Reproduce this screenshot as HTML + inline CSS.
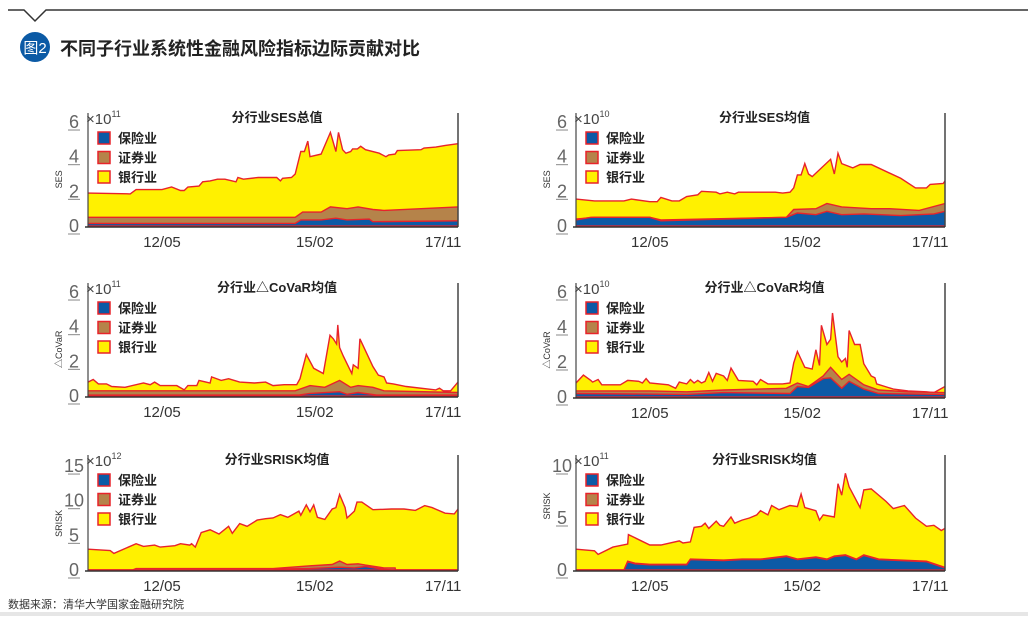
<!DOCTYPE html>
<html><head><meta charset="utf-8"><style>
html,body{margin:0;padding:0;background:#fff;}
body{width:1028px;height:616px;overflow:hidden;font-family:"Liberation Sans","Noto Sans CJK SC",sans-serif;}
</style></head><body>
<svg id="s" width="1028" height="616" xmlns="http://www.w3.org/2000/svg" font-family="Liberation Sans, Noto Sans CJK SC, sans-serif">
<polyline points="8,10 24,10 35,21 46,10 1028,10" fill="none" stroke="#333" stroke-width="1.5"/>
<circle cx="35" cy="47" r="15" fill="#0b5aa5"/>
<text x="35" y="53" fill="#fff" font-size="15" text-anchor="middle">图2</text>
<text x="60" y="55" font-size="18" font-weight="bold" fill="#222">不同子行业系统性金融风险指标边际贡献对比</text>
<text x="8" y="608" font-size="11" fill="#333">数据来源：清华大学国家金融研究院</text>
<rect x="0" y="612" width="1028" height="4" fill="#e6e6e6"/>
</svg>
<script>
var s=document.getElementById('s');var NS='http://www.w3.org/2000/svg';
function el(t,a,txt,par){var e=document.createElementNS(NS,t);for(var k in a)e.setAttribute(k,a[k]);if(txt!==undefined)e.textContent=txt;(par||s).appendChild(e);return e;}
function P(x0,x1,y0,pu,top,title,exp,ylab,ticks,lbls,Y,B,L){
 var X=function(t){return x0+t*(x1-x0)},V=function(v){return y0-v*pu};
 function area(d,fill){var p=d.map(function(q){return X(q[0]).toFixed(1)+','+V(q[1]).toFixed(1)});
  el('polygon',{points:X(0)+','+y0+' '+p.join(' ')+' '+X(1)+','+y0,fill:fill});
  el('polyline',{points:p.join(' '),fill:'none',stroke:'#e8232a','stroke-width':1.4});}
 area(Y,'#fff100');area(B,'#b5834a');area(L,'#0c5aa6');
 el('line',{x1:x0,y1:y0,x2:x1,y2:y0,stroke:'#e8232a','stroke-width':1.2});
 el('line',{x1:x0,y1:top,x2:x0,y2:y0+1,stroke:'#444','stroke-width':1.2});
 el('line',{x1:x1,y1:top,x2:x1,y2:y0+1,stroke:'#444','stroke-width':1.5});
 el('line',{x1:x0-3,y1:y0+1,x2:x1,y2:y0+1,stroke:'#333','stroke-width':1.5});
 ticks.forEach(function(v){var y=V(v);el('text',{x:x0-14,y:y+6,'font-size':18,fill:'#666','text-anchor':'middle'},String(v));
  el('line',{x1:x0-20,y1:y+8,x2:x0-8,y2:y+8,stroke:'#888','stroke-width':1});});
 lbls.forEach(function(l){el('text',{x:X(l[0]),y:y0+21,'font-size':15,fill:'#333','text-anchor':'middle'},l[1]);});
 el('text',{x:(x0+x1)/2+4,y:top+9,'font-size':13,'font-weight':'bold',fill:'#222','text-anchor':'middle'},title);
 var t=el('text',{x:x0-2,y:top+11,'font-size':15,fill:'#444'},'×10');
 el('tspan',{dy:-7,'font-size':9},exp,t);
 el('text',{x:0,y:0,'font-size':9,fill:'#333','text-anchor':'middle',transform:'translate('+(x0-26)+','+(V(ticks[1])-12)+') rotate(-90)'},ylab);
 [['#0c5aa6','保险业'],['#b5834a','证券业'],['#fff100','银行业']].forEach(function(c,i){var y=top+19+i*19.5;
  el('rect',{x:x0+10,y:y,width:12,height:12,fill:c[0],stroke:'#e8232a','stroke-width':1.5});
  el('text',{x:x0+30,y:y+11,'font-size':13,'font-weight':'bold',fill:'#222'},c[1]);});
}
var LX=[[.2,'12/05'],[.613,'15/02'],[.96,'17/11']];
P(88,458,226,17.33,113,'分行业SES总值','11','SES',[0,2,4,6],LX,
[[0,1.9],[.114,1.85],[.13,2.1],[.2,2.1],[.226,2.25],[.25,2.05],[.26,2.05],[.27,2.25],[.3,2.3],[.31,2.55],[.33,2.6],[.35,2.7],[.37,2.7],[.4,2.55],[.405,2.8],[.42,2.7],[.46,2.8],[.51,2.8],[.52,2.6],[.526,2.75],[.55,2.8],[.56,3.0],[.575,4.3],[.585,4.3],[.594,4.9],[.6,4.0],[.63,4.15],[.655,5.4],[.67,4.3],[.677,5.4],[.688,4.4],[.697,4.2],[.71,4.3],[.715,4.45],[.728,4.45],[.737,4.6],[.75,4.4],[.787,4.2],[.805,4.0],[.813,4.1],[.83,4.15],[.836,4.35],[.9,4.4],[.908,4.5],[.94,4.55],[.966,4.65],[1,4.75]],
[[0,.5],[.56,.5],[.58,.8],[.63,.8],[.655,1.1],[.7,1.0],[.73,1.1],[.77,.95],[.8,.9],[1,1.1]],
[[0,.15],[.56,.15],[.575,.35],[.63,.35],[.67,.45],[.7,.35],[.76,.4],[.77,.25],[1,.3]]);
P(576,945,226,17.33,113,'分行业SES均值','10','SES',[0,2,4,6],LX,
[[0,1.55],[.05,1.45],[.13,1.45],[.15,1.55],[.2,1.4],[.22,1.4],[.23,1.65],[.26,1.45],[.28,1.45],[.3,1.7],[.33,1.8],[.34,2.0],[.38,1.95],[.39,1.85],[.41,1.95],[.43,1.85],[.44,1.95],[.54,1.95],[.56,1.9],[.58,1.95],[.59,2.2],[.6,2.95],[.61,2.95],[.62,3.6],[.63,3.0],[.64,2.85],[.69,3.85],[.7,3.0],[.71,4.2],[.72,3.6],[.75,3.35],[.77,3.55],[.8,3.55],[.88,2.75],[.92,2.2],[.95,2.2],[.96,2.4],[.995,2.45],[1,2.6]],
[[0,.4],[.05,.5],[.2,.5],[.23,.35],[.57,.5],[.59,.95],[.65,1.0],[.68,1.3],[.72,1.1],[.8,1.0],[.85,1.0],[.93,.9],[1,1.3]],
[[0,.35],[.04,.5],[.2,.5],[.23,.3],[.57,.5],[.6,.75],[.65,.65],[.68,.85],[.72,.65],[.78,.7],[.88,.6],[.97,.7],[1,.85]]);
P(88,458,396,17.33,283,'分行业△CoVaR均值','11','△CoVaR',[0,2,4,6],LX,
[[0,.8],[.014,.95],[.028,.7],[.05,.7],[.064,.55],[.1,.5],[.15,.75],[.168,.65],[.18,.8],[.195,.6],[.24,.6],[.26,.35],[.27,.6],[.294,.6],[.3,.9],[.33,.75],[.334,1.1],[.36,.9],[.38,1.0],[.41,.8],[.45,.75],[.48,.8],[.5,.6],[.53,.65],[.564,.65],[.573,1.0],[.59,2.4],[.61,1.6],[.636,1.3],[.654,3.5],[.663,3.3],[.672,3.0],[.675,4.1],[.68,2.8],[.69,2.3],[.713,1.3],[.717,1.8],[.73,1.6],[.735,3.3],[.77,1.7],[.785,1.2],[.8,1.1],[.807,.75],[.825,.7],[.86,.55],[.94,.35],[.95,.45],[.96,.3],[.98,.3],[1,.8]],
[[0,.3],[.56,.3],[.6,.6],[.64,.5],[.68,.9],[.71,.5],[.73,.6],[.77,.5],[.8,.3],[1,.2]],
[[0,.05],[.57,.05],[.6,.15],[.68,.25],[.7,.1],[.73,.2],[.78,.05],[1,.05]]);
P(576,945,397,17.5,283,'分行业△CoVaR均值','10','△CoVaR',[0,2,4,6],LX,
[[0,.8],[.02,1.25],[.04,.95],[.045,.85],[.06,1.0],[.07,.7],[.12,.7],[.14,.95],[.17,.9],[.18,.8],[.19,1.05],[.2,.8],[.25,.7],[.27,.5],[.28,.85],[.3,.75],[.31,1.0],[.32,.8],[.33,.95],[.34,.8],[.35,.9],[.36,1.4],[.37,.9],[.38,1.35],[.4,1.2],[.41,.95],[.42,1.65],[.44,.95],[.48,.9],[.49,.7],[.5,1.0],[.52,.75],[.56,.75],[.58,.8],[.59,1.95],[.6,2.6],[.62,1.7],[.64,1.6],[.65,2.7],[.66,1.8],[.665,4.1],[.68,3.0],[.69,3.3],[.695,4.8],[.71,2.3],[.72,2.0],[.73,2.2],[.735,1.7],[.74,3.8],[.755,3.0],[.77,3.0],[.78,1.9],[.8,1.2],[.81,1.1],[.815,.75],[.86,.45],[.9,.35],[.95,.3],[.97,.25],[1,.6]],
[[0,.35],[.2,.35],[.3,.3],[.4,.4],[.57,.5],[.6,.8],[.63,.6],[.67,1.2],[.69,1.7],[.72,1.0],[.74,1.3],[.78,.7],[.82,.4],[.9,.3],[1,.25]],
[[0,.2],[.3,.15],[.4,.25],[.58,.2],[.6,.6],[.63,.55],[.67,1.05],[.69,1.1],[.72,.5],[.74,.9],[.78,.45],[.82,.2],[1,.15]]);
P(88,458,570,6.93,455,'分行业SRISK均值','12','SRISK',[0,5,10,15],LX,
[[0,3.0],[.06,2.8],[.07,2.4],[.13,3.8],[.15,3.4],[.18,3.6],[.195,3.3],[.235,3.5],[.25,3.8],[.275,3.6],[.28,3.8],[.29,3.3],[.306,5.4],[.33,5.8],[.354,5.2],[.38,6.3],[.39,5.3],[.41,6.7],[.43,6.3],[.457,7.2],[.48,7.4],[.5,7.5],[.52,8.0],[.54,7.6],[.57,8.5],[.575,7.9],[.59,9.4],[.6,8.4],[.61,9.4],[.62,7.6],[.64,7.3],[.66,8.8],[.67,9.0],[.68,10.9],[.695,9.0],[.7,7.5],[.72,8.5],[.727,9.8],[.74,9.8],[.77,8.7],[.82,8.8],[.854,8.8],[.885,8.6],[.91,9.3],[.93,9.0],[.965,8.2],[.99,8.1],[1,8.8]],
[[0,0],[.12,0],[.13,.2],[.5,.2],[.55,.4],[.6,.6],[.66,.8],[.68,1.3],[.7,.8],[.73,.9],[.75,.7],[.8,.3],[.83,.3],[.831,0],[1,0]],
[[0,0],[.5,0],[.52,.15],[.6,.2],[.68,.4],[.72,.3],[.75,.5],[.8,.1],[.82,0],[1,0]]);
P(576,945,570,10.4,455,'分行业SRISK均值','11','SRISK',[0,5,10],LX,
[[0,2.0],[.05,1.85],[.06,1.5],[.1,2.2],[.14,2.5],[.142,3.4],[.16,3.1],[.2,2.4],[.23,2.4],[.28,2.8],[.29,2.6],[.31,2.7],[.32,4.1],[.34,4.2],[.35,4.5],[.36,4.0],[.38,4.7],[.39,4.3],[.4,4.2],[.42,5.1],[.43,4.5],[.45,4.8],[.47,5.0],[.49,5.3],[.5,5.7],[.52,5.3],[.53,6.2],[.55,5.8],[.58,6.2],[.6,6.1],[.61,7.3],[.62,6.0],[.65,5.7],[.66,4.8],[.67,5.3],[.7,5.1],[.71,8.3],[.72,7.2],[.73,9.3],[.74,8.0],[.77,6.0],[.78,7.7],[.8,7.8],[.84,6.6],[.86,5.9],[.89,6.2],[.92,5.0],[.95,4.2],[.97,4.3],[.99,3.8],[1,4.0]],
[[0,0],[.13,0],[.14,.85],[.16,.65],[.2,.55],[.3,.55],[.31,1.05],[.4,.95],[.45,1.05],[.5,1.05],[.57,1.35],[.6,1.05],[.65,1.25],[.68,1.05],[.7,1.35],[.73,1.45],[.76,1.05],[.78,1.45],[.82,1.05],[.95,.85],[1,.25]],
[[0,0],[.13,0],[.14,.8],[.16,.6],[.2,.5],[.3,.5],[.31,1.0],[.4,.9],[.45,1.0],[.5,1.0],[.57,1.3],[.6,1.0],[.65,1.2],[.68,1.0],[.7,1.3],[.73,1.4],[.76,1.0],[.78,1.4],[.82,1.0],[.95,.8],[1,.2]]);
</script>
</body></html>
